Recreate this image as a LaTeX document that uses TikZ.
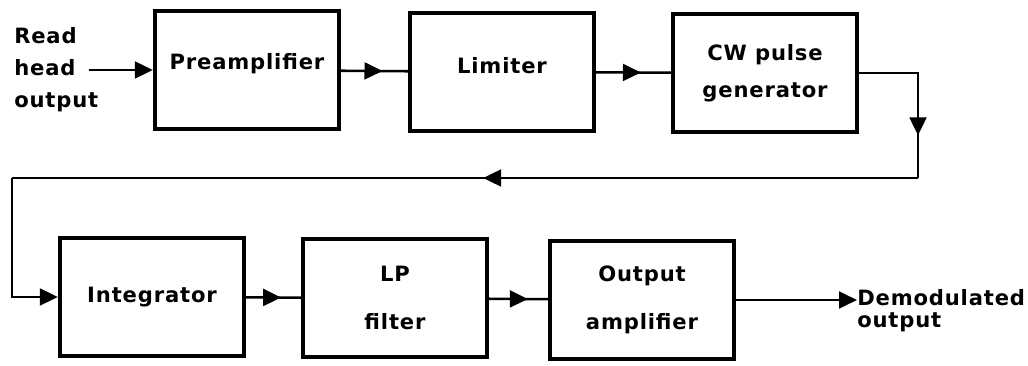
\documentclass[tikz,border=0pt]{standalone}
\usepackage{fontspec}
\setmainfont{DejaVu Sans}[LetterSpace=4]
\usetikzlibrary{arrows.meta,positioning,decorations.markings}
\tikzset{
  blockbox/.style={draw, line width=3pt, minimum width=4.6cm, minimum height=2.95cm, align=center, font=\bfseries\fontsize{15}{24}\selectfont},
  flowln/.style={line width=1.8pt},
  tipfill/.style={-{Triangle[length=0.45cm,width=0.42cm]}},
  midarrow/.style={decoration={markings, mark=at position #1 with {\arrow{Triangle[length=0.45cm,width=0.42cm]}}}, postaction=decorate},
  lbl/.style={align=left, inner sep=0pt, font=\bfseries\fontsize{15}{16}\selectfont},
}

\begin{document}
\begin{tikzpicture}[x=0.025cm, y=-0.025cm]
    \useasboundingbox (0,0) rectangle (1028,366);
    % top row
    \node[blockbox, text depth=12pt] (pre) at (247,70) {Preamplifier};
    \node[blockbox, text depth=9pt] (lim) at (502,72) {Limiter};
    \node[blockbox] (cwgen) at (765,73) {CW pulse\\[2pt]generator};
    \node[lbl, anchor=west, font=\bfseries\fontsize{15}{22.7}\selectfont] (readin) at (14,70) {Read\\head\\output};
    % bottom row
    \node[blockbox] (integ) at (152,297) {Integrator};
    \node[blockbox] (lpf) at (395,298) {LP\\[10pt]filter};
    \node[blockbox] (outamp) at (642,300) {Output\\[10pt]amplifier};
    \node[lbl, anchor=north west] (demod) at (857,289) {Demodulated\\output};
    % feedback corners
    \coordinate (c1) at (918,178);
    \coordinate (c2) at (12,178);
    % connectors
    \draw[flowln, tipfill] ([xshift=-0.25cm]readin.east |- pre.west) -- (pre.west);
    \draw[flowln, midarrow=0.62] (pre) -- (lim);
    \draw[flowln, midarrow=0.6] (lim) -- (cwgen);
    \draw[flowln, midarrow=0.74] (cwgen.east) -| (c1);
    \draw[flowln, midarrow=0.48] (c1) -- (c2);
    \draw[flowln, tipfill] (c2) |- (integ.west);
    \draw[flowln, midarrow=0.64] (integ) -- (lpf);
    \draw[flowln, midarrow=0.66] (lpf) -- (outamp);
    \draw[flowln, tipfill] (outamp.east) -- (outamp.east -| demod.west);
\end{tikzpicture}
\end{document}
